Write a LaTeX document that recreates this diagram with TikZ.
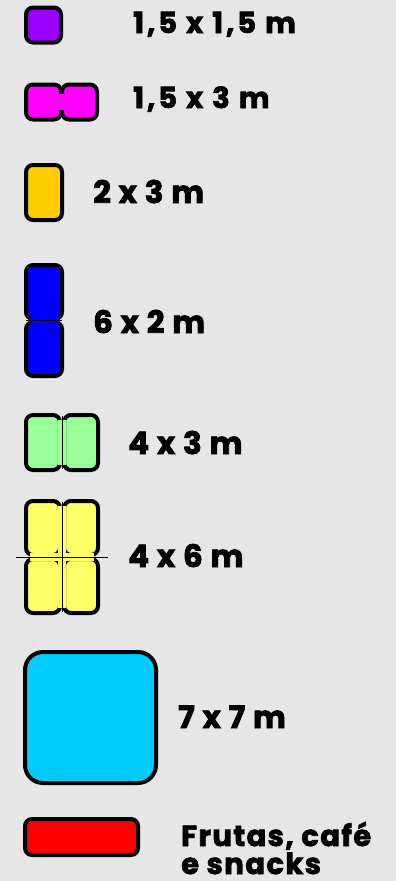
\documentclass[tikz,border=0pt]{standalone}
\usepackage{fontspec}
\setmainfont{Poppins}[BoldFeatures={FakeBold=2.5}]
\usepackage{tikz}
\usetikzlibrary{positioning}
\definecolor{bg}{HTML}{E6E6E6}
\definecolor{violet}{HTML}{9900FF}
\definecolor{pink}{HTML}{FF00FF}
\definecolor{gold}{HTML}{FFCC00}
\definecolor{royal}{HTML}{0000FF}
\definecolor{mint}{HTML}{99FF99}
\definecolor{lemon}{HTML}{FFFF66}
\definecolor{sky}{HTML}{00CCFF}
\definecolor{scarlet}{HTML}{FF0000}

\begin{document}
\begin{tikzpicture}[x=1pt,y=-1pt,
  stand/.style={draw=black,line width=4pt,rounded corners=7pt,inner sep=0,
    minimum width=35pt,minimum height=35pt},
  size/.style={font=\bfseries\fontsize{31}{31}\selectfont\addfontfeatures{LetterSpace=4},
    inner sep=0,anchor=base west},
  wide/.style={size,font=\bfseries\fontsize{29}{29}\selectfont\addfontfeatures{LetterSpace=10}}]
  \fill[bg] (0,0) rectangle (396,881);
  \useasboundingbox (0,0) rectangle (396,881);

  % 1,5 x 1,5
  \node[stand,fill=violet] (s1) at (43.5,25) {};
  \node[wide] (t1) at (133,33) {1,5 x 1,5 m};

  % 1,5 x 3
  \node[stand,fill=pink] (s2a) at (43.5,102) {};
  \node[stand,fill=pink] (s2b) at (79.5,102) {};
  \fill[pink] (57,94) rectangle (66,110);
  \node[wide] (t2) at (133,108) {1,5 x 3 m};

  % 2 x 3
  \node[stand,fill=gold,minimum width=36pt,minimum height=55pt] (s3) at (44,192.5) {};
  \node[size] (t3) at (93,203) {2 x 3 m};

  % 6 x 2
  \node[stand,fill=royal,minimum width=36pt,minimum height=54pt] (s4a) at (44,292) {};
  \node[stand,fill=royal,minimum width=36pt,minimum height=54pt] (s4b) at (44,349) {};
  \fill[royal] (29,317) rectangle (59,324);
  \draw[line width=1pt] (26,320.5) -- (62,320.5);
  \node[size] (t4) at (93,333) {6 x 2 m};

  % 4 x 3
  \node[stand,fill=mint,minimum width=34pt,minimum height=55pt] (s5a) at (43,442.5) {};
  \node[stand,fill=mint,minimum width=34pt,minimum height=55pt] (s5b) at (81,442.5) {};
  \fill[mint] (58,420) rectangle (66,465);
  \draw[line width=1pt] (62,416) -- (62,469);
  \node[size] (t5) at (128,454) {4 x 3 m};

  % 4 x 6
  \node[stand,fill=lemon,minimum width=34pt,minimum height=54pt] (s6a) at (43,528) {};
  \node[stand,fill=lemon,minimum width=34pt,minimum height=54pt] (s6b) at (81,528) {};
  \node[stand,fill=lemon,minimum width=34pt,minimum height=54pt] (s6c) at (43,586) {};
  \node[stand,fill=lemon,minimum width=34pt,minimum height=54pt] (s6d) at (81,586) {};
  \fill[lemon] (58,506) rectangle (66,608);
  \fill[lemon] (30,553) rectangle (94,561);
  \draw[line width=1pt] (62,502) -- (62,612);
  \draw[line width=1pt] (27,557) -- (97,557);
  \draw[line width=0.4pt] (16,557) -- (108,557);
  \node[size] (t6) at (128,567) {4 x 6 m};

  % 7 x 7
  \node[stand,fill=sky,rounded corners=18pt,minimum width=131pt,minimum height=131pt] (s7) at (90.5,717.5) {};
  \node[size] (t7) at (178,728) {7 x 7 m};

  % frutas
  \node[stand,fill=scarlet,minimum width=113pt,minimum height=36pt] (s8) at (81.5,837) {};
  \node[size,align=left,font=\bfseries\fontsize{29}{28}\selectfont\addfontfeatures{LetterSpace=5}] (t8) at (181,874) {Frutas, café\\e snacks};
\end{tikzpicture}
\end{document}
